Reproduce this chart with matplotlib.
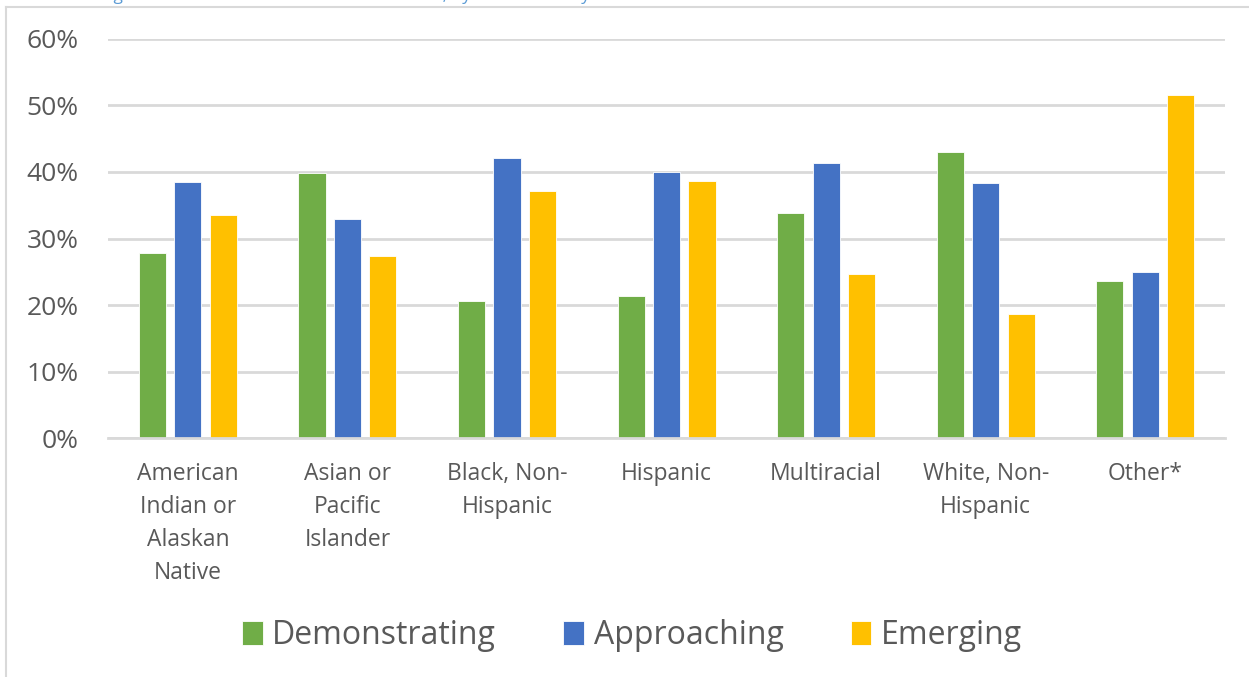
import numpy as np
import matplotlib
matplotlib.use("Agg")
import matplotlib.pyplot as plt
from matplotlib.lines import Line2D

# -----------------------------
# Datos
# -----------------------------
categorias = [
    "American\nIndian or\nAlaskan\nNative",
    "Asian or\nPacific\nIslander",
    "Black, Non-\nHispanic",
    "Hispanic",
    "Multiracial",
    "White, Non-\nHispanic",
    "Other*",
]
demonstrating = [27.8, 39.8, 20.6, 21.3, 33.8, 43.0, 23.6]
approaching = [38.5, 32.9, 42.1, 40.0, 41.4, 38.4, 24.9]
emerging = [33.5, 27.3, 37.2, 38.7, 24.7, 18.6, 51.5]

series = [
    ("Demonstrating", demonstrating, "#70AD47"),
    ("Approaching", approaching, "#4472C4"),
    ("Emerging", emerging, "#FFC000"),
]

titulo = "Kindergarten Readiness Levels Across the State, by Race/Ethnicity"

# -----------------------------
# Figura
# -----------------------------
plt.rcParams["font.family"] = ["Open Sans", "DejaVu Sans"]
gris_texto = "#595959"
gris_linea = "#D9D9D9"

fig = plt.figure(figsize=(12.49, 6.77), dpi=100)
ax = fig.add_axes([0.0865, 0.3526, 0.8943, 0.5902])

x = np.arange(len(categorias))
ancho = 0.17
paso = 0.222
for i, (nombre, valores, color) in enumerate(series):
    ax.bar(x + (i - 1) * paso, np.array(valores) / 100, width=ancho,
           color=color, edgecolor="white", linewidth=0.6, label=nombre, zorder=3)

ax.set_xlim(-0.5, len(categorias) - 0.5)
ax.set_ylim(0, 0.6)
ax.set_yticks(np.arange(0, 0.61, 0.1))
ax.set_yticklabels([f"{int(round(v * 100))}%" for v in np.arange(0, 0.61, 0.1)])
ax.set_xticks(x)
ax.set_xticklabels(categorias, linespacing=1.5)

ax.tick_params(axis="y", length=0, pad=21, labelsize=19, labelcolor=gris_texto)
ax.tick_params(axis="x", length=0, pad=17, labelsize=16.5, labelcolor=gris_texto)
for lbl in ax.get_xticklabels():
    lbl.set_verticalalignment("top")

ax.grid(axis="y", color=gris_linea, linewidth=2, zorder=0)
for lado in ["top", "right", "left"]:
    ax.spines[lado].set_visible(False)
ax.spines["bottom"].set_color(gris_linea)
ax.spines["bottom"].set_linewidth(2)
ax.spines["bottom"].set_zorder(4)

# Leyenda inferior
fig.legend(loc="center", bbox_to_anchor=(0.506, 0.061), ncol=3, frameon=False,
           fontsize=23, labelcolor=gris_texto, handlelength=0.65,
           handleheight=0.75, handletextpad=0.3, columnspacing=2.1)

# Marco del gráfico (solo borde izquierdo y superior visibles)
x0 = 5.5 / 1249
y0 = 1 - 6.5 / 677
fig.add_artist(Line2D([x0, x0], [0, y0], transform=fig.transFigure,
                      color=gris_linea, linewidth=1.5))
fig.add_artist(Line2D([x0, 1], [y0, y0], transform=fig.transFigure,
                      color=gris_linea, linewidth=1.5))

# Título (queda recortado por el borde superior)
fig.text(0.048, 1.0, titulo, ha="left", va="baseline", fontsize=12.5,
         color="#5B9BD5")

fig.savefig("out.png", dpi=100)
